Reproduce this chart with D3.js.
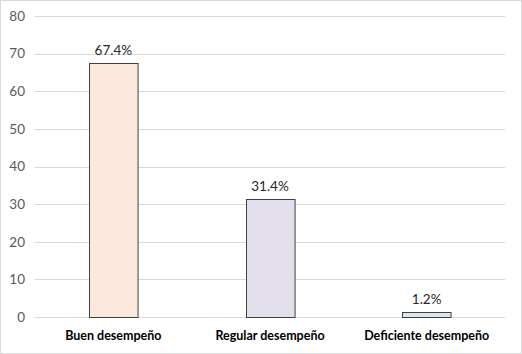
<!DOCTYPE html>
<html>
<head>
<meta charset="utf-8">
<script src="https://cdn.jsdelivr.net/npm/d3@7"></script>
<style>
  body { margin: 0; background: #fff; }
  svg { display: block; font-family: Lato, "Open Sans", sans-serif; }
</style>
</head>
<body>
<div id="chart"></div>
<script>
const categories = ["Buen desempeño", "Regular desempeño", "Deficiente desempeño"]
const values = [67.4, 31.4, 1.2]
const valueLabels = ["67.4%", "31.4%", "1.2%"]
const barColors = ["#FCE8DA", "#E4DFEC", "#DCE6F2"]
const yTicks = [0, 10, 20, 30, 40, 50, 60, 70, 80]

const width = 522, height = 354
const margin = {top: 16, right: 17, bottom: 37, left: 35}

const svg = d3.select("#chart").append("svg")
    .attr("width", width)
    .attr("height", height)

// outer frame
svg.append("rect")
    .attr("x", 0.5).attr("y", 0.5)
    .attr("width", width - 1).attr("height", height - 1)
    .attr("fill", "#fff")
    .attr("stroke", "#d9d9d9")

const x = d3.scaleBand()
    .domain(categories)
    .range([margin.left, width - margin.right])
    .paddingInner(0.69)
    .paddingOuter(0.345)

const y = d3.scaleLinear()
    .domain([0, 80])
    .range([height - margin.bottom, margin.top])

// gridlines
svg.append("g")
    .selectAll("line")
    .data(yTicks)
    .enter()
    .append("line")
    .attr("x1", margin.left)
    .attr("x2", width - margin.right)
    .attr("y1", d => Math.round(y(d)) + 0.5)
    .attr("y2", d => Math.round(y(d)) + 0.5)
    .attr("stroke", "#d9d9d9")
    .attr("stroke-width", 1)

// y axis labels
const yAxis = svg.append("g")
    .attr("transform", "translate(" + (margin.left - 10) + ",0)")
    .call(d3.axisLeft(y).tickValues(yTicks).tickSize(0).tickPadding(0))
yAxis.select(".domain").remove()
yAxis.selectAll("text")
    .attr("fill", "#595959")
    .style("font-size", "13.5px")
    .style("font-family", "Lato, sans-serif")

// bars
svg.append("g")
    .selectAll("rect")
    .data(values)
    .enter()
    .append("rect")
    .attr("x", (d, i) => Math.round(x(categories[i])) + 0.5)
    .attr("y", d => Math.round(y(d)) + 0.5)
    .attr("width", x.bandwidth())
    .attr("height", d => Math.round(y(0)) - Math.round(y(d)))
    .attr("fill", (d, i) => barColors[i])
    .attr("stroke", "#404040")
    .attr("stroke-width", 1)

// value labels
svg.append("g")
    .selectAll("text")
    .data(values)
    .enter()
    .append("text")
    .attr("x", (d, i) => x(categories[i]) + x.bandwidth() / 2)
    .attr("y", d => y(d) - 8)
    .attr("text-anchor", "middle")
    .attr("fill", "#262626")
    .style("font-size", "13.5px")
    .text((d, i) => valueLabels[i])

// category labels
const xAxis = svg.append("g")
    .attr("transform", "translate(0," + (height - margin.bottom) + ")")
    .call(d3.axisBottom(x).tickSize(0).tickPadding(14))
xAxis.select(".domain").remove()
xAxis.selectAll("text")
    .attr("fill", "#000")
    .style("font-size", "12.5px")
    .style("font-weight", "bold")
    .style("font-family", "Lato, sans-serif")
</script>
</body>
</html>
